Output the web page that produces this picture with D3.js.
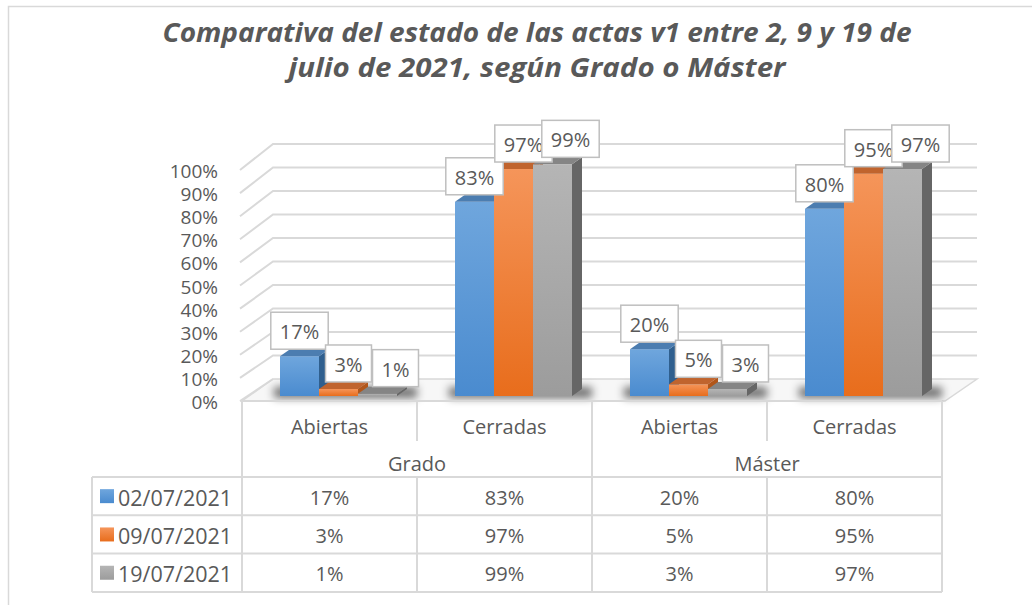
<!DOCTYPE html>
<head>
<meta charset="utf-8">
<script src="https://d3js.org/d3.v7.min.js"></script>
</head>
<style>
body { margin: 0; background: #fff; }
text { font-family: "Open Sans", sans-serif; fill: #595959; }
.grid { stroke: #d9d9d9; stroke-width: 2px; fill: none; }
.tbl { stroke: #d9d9d9; stroke-width: 2px; fill: none; }
.lbl { fill: #fff; stroke: #bfbfbf; stroke-width: 1.5px; }
</style>
<body>
<script>
// data
var categories = ["Abiertas", "Cerradas", "Abiertas", "Cerradas"];
var groups = ["Grado", "Máster"];
var series = ["02/07/2021", "09/07/2021", "19/07/2021"];
var v0207 = [17, 83, 20, 80];
var v0907 = [3, 97, 5, 95];
var v1907 = [1, 99, 3, 97];
var yTicks = [0, 10, 20, 30, 40, 50, 60, 70, 80, 90, 100];
var titleLines = ["Comparativa del estado de las actas v1 entre 2, 9 y 19 de",
                  "julio de 2021, según Grado o Máster"];

var values = [v0207, v0907, v1907];
var colors = [
  {top: "#6fa6dd", bot: "#4a8bcf", cap: "#4c7db0", side: "#2f5f8e"},
  {top: "#f5955a", bot: "#e86d1c", cap: "#c0642e", side: "#b1561a"},
  {top: "#b5b5b5", bot: "#9c9c9c", cap: "#858585", side: "#666666"}
];
var labelShift = [0, 10, 18];

var W = 1032, H = 605;
var svg = d3.select("body").append("svg")
    .attr("width", W).attr("height", H);

var defs = svg.append("defs");
colors.forEach(function(c, i) {
  var g = defs.append("linearGradient").attr("id", "grad" + i)
      .attr("x1", 0).attr("y1", 0).attr("x2", 0).attr("y2", 1);
  g.append("stop").attr("offset", "0%").attr("stop-color", c.top);
  g.append("stop").attr("offset", "100%").attr("stop-color", c.bot);
});
defs.append("filter").attr("id", "blur")
    .attr("x", "-50%").attr("y", "-200%").attr("width", "200%").attr("height", "500%")
  .append("feGaussianBlur").attr("stdDeviation", 4);

// chart frame
svg.append("rect").attr("x", 8.5).attr("y", 6.5)
    .attr("width", 1100).attr("height", 700)
    .attr("fill", "none").attr("stroke", "#d9d9d9").attr("stroke-width", 1.5);

// title
svg.selectAll(".title").data(titleLines).enter().append("text")
    .attr("class", "title")
    .attr("x", 537).attr("y", function(d, i) { return 42 + i * 35; })
    .attr("text-anchor", "middle")
    .attr("textLength", function(d, i) { return i == 0 ? 749 : 497; })
    .attr("lengthAdjust", "spacingAndGlyphs")
    .style("font-size", "27px").style("font-weight", "bold").style("font-style", "italic")
    .text(function(d) { return d; });

// scales
var x = d3.scaleBand().domain(d3.range(categories.length)).range([242, 942]);
var xSub = d3.scaleBand().domain(d3.range(series.length)).range([38, 155]);
var yBar = d3.scaleLinear().domain([0, 100]).range([396, 162]);
var yFront = d3.scaleLinear().domain([0, 100]).range([401, 170]);
var yBack = d3.scaleLinear().domain([0, 100]).range([379, 144]);
var wallL = 240, wallBackL = 273, wallBackR = 977, floorR = 945;
var DX = 10, DY = -7;

// floor
svg.append("path")
    .attr("d", "M" + x.range()[0] + "," + yFront(0) + "L" + floorR + "," + yFront(0) +
               "L" + wallBackR + "," + yBack(0) + "L" + wallBackL + "," + yBack(0) + "Z")
    .attr("fill", "#f7f7f7").attr("stroke", "#d9d9d9").attr("stroke-width", 1.5);

// walls gridlines
var grid = svg.append("g");
yTicks.forEach(function(t) {
  grid.append("path").attr("class", "grid")
      .attr("d", "M" + wallL + "," + yFront(t) + "L" + wallBackL + "," + yBack(t) +
                 (t > 0 ? "L" + wallBackR + "," + yBack(t) : ""));
});

// y labels
svg.selectAll(".ytick").data(yTicks).enter().append("text")
    .attr("x", 218).attr("y", function(d) { return yFront(d) + 1; })
    .attr("text-anchor", "end").attr("dominant-baseline", "central")
    .style("font-size", "19px")
    .text(function(d) { return d + "%"; });

// shadows
var shadows = svg.append("g").attr("filter", "url(#blur)");
categories.forEach(function(c, ci) {
  var x0 = x(ci) + xSub(0), x1 = x(ci) + xSub(series.length - 1) + xSub.bandwidth();
  shadows.append("rect")
      .attr("x", x0 - 6).attr("y", yBar(0) - 9)
      .attr("width", x1 - x0 + DX + 16).attr("height", 11)
      .attr("fill", "#000").attr("opacity", 0.55);
});

// bars
var bars = svg.append("g");
var labels = svg.append("g");
categories.forEach(function(c, ci) {
  values.forEach(function(vals, si) {
    var v = vals[ci];
    var x0 = x(ci) + xSub(si), x1 = x0 + xSub.bandwidth();
    var yt = yBar(v), yb = yBar(0);
    var col = colors[si];
    bars.append("path")
        .attr("d", "M" + x1 + "," + yt + "L" + (x1 + DX) + "," + (yt + DY) +
                   "L" + (x1 + DX) + "," + (yb + DY) + "L" + x1 + "," + yb + "Z")
        .attr("fill", col.side);
    bars.append("rect")
        .attr("x", x0).attr("y", yt).attr("width", x1 - x0).attr("height", yb - yt)
        .attr("fill", "url(#grad" + si + ")");
    bars.append("path")
        .attr("d", "M" + x0 + "," + yt + "L" + x1 + "," + yt + "L" + (x1 + DX) + "," + (yt + DY) +
                   "L" + (x0 + DX) + "," + (yt + DY) + "Z")
        .attr("fill", col.cap);

    // data label
    var lg = labels.append("g");
    var box = lg.append("rect").attr("class", "lbl");
    var cx = (x0 + x1) / 2 + labelShift[si];
    var txt = lg.append("text")
        .attr("x", cx).attr("text-anchor", "middle")
        .style("font-size", "20px").text(v + "%");
    var tw = txt.node().getComputedTextLength();
    var bw = tw + 18, bh = 37, bbot = yt + DY;
    box.attr("x", cx - bw / 2).attr("y", bbot - bh).attr("width", bw).attr("height", bh);
    txt.attr("y", bbot - bh / 2 + 1).attr("dominant-baseline", "central");
  });
});

// data table
var tbl = svg.append("g");
var tL = x.range()[0], tR = x.range()[1], legL = 92;
var rowTop = 477, rowH = 38.3;
var yRow = function(i) { return rowTop + i * rowH; };
// outline lines
tbl.append("path").attr("class", "tbl")
    .attr("d", "M" + tL + "," + yFront(0) + "L" + tR + "," + yFront(0));
for (var r = 0; r <= series.length; r++) {
  tbl.append("path").attr("class", "tbl")
      .attr("d", "M" + legL + "," + yRow(r) + "L" + tR + "," + yRow(r));
}
tbl.append("path").attr("class", "tbl")
    .attr("d", "M" + legL + "," + yRow(0) + "L" + legL + "," + yRow(series.length));
// column separators
d3.range(categories.length + 1).forEach(function(i) {
  var xx = i < categories.length ? x(i) : tR;
  var yTop = yFront(0);
  var groupEdge = (i % 2 == 0);
  tbl.append("path").attr("class", "tbl")
      .attr("d", "M" + xx + "," + yTop + "L" + xx + "," + (groupEdge ? yRow(series.length) : yTop + 40));
  if (!groupEdge) {
    tbl.append("path").attr("class", "tbl")
        .attr("d", "M" + xx + "," + yRow(0) + "L" + xx + "," + yRow(series.length));
  }
});
// category and group labels
tbl.selectAll(".cat").data(categories).enter().append("text")
    .attr("x", function(d, i) { return x(i) + x.bandwidth() / 2; })
    .attr("y", 426).attr("text-anchor", "middle").attr("dominant-baseline", "central")
    .style("font-size", "20px").text(function(d) { return d; });
tbl.selectAll(".grp").data(groups).enter().append("text")
    .attr("x", function(d, i) { return x(i * 2) + x.bandwidth(); })
    .attr("y", 463).attr("text-anchor", "middle").attr("dominant-baseline", "central")
    .style("font-size", "20px").text(function(d) { return d; });
// rows
series.forEach(function(s, si) {
  var cy = yRow(si) + rowH / 2;
  tbl.append("rect").attr("x", 100).attr("y", cy - 7).attr("width", 14).attr("height", 14)
      .attr("fill", "url(#grad" + si + ")");
  tbl.append("text").attr("x", 118).attr("y", cy + 1).attr("dominant-baseline", "central")
      .style("font-size", "21.5px").text(s);
  values[si].forEach(function(v, ci) {
    tbl.append("text")
        .attr("x", x(ci) + x.bandwidth() / 2).attr("y", cy + 1)
        .attr("text-anchor", "middle").attr("dominant-baseline", "central")
        .style("font-size", "20px").text(v + "%");
  });
});
</script>
</body>
